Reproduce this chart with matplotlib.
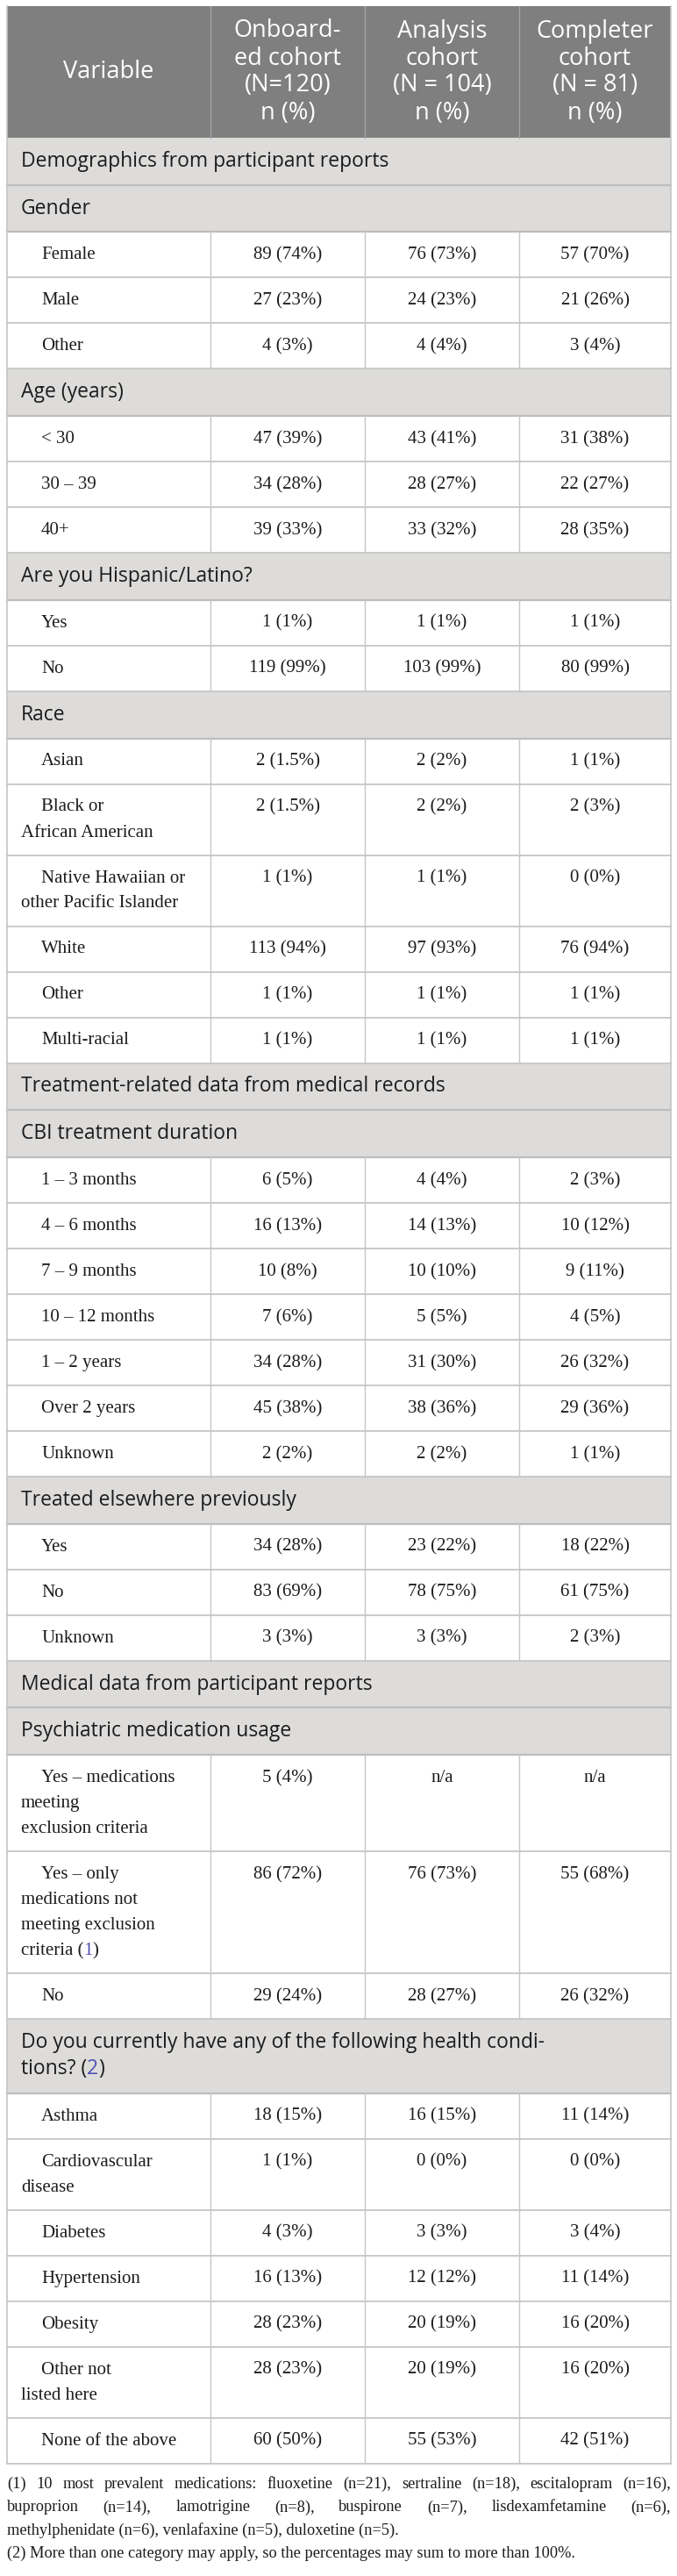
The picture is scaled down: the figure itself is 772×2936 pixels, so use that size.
#!/usr/bin/env python3

import re
import matplotlib
matplotlib.use("Agg")
import matplotlib.pyplot as plt
from matplotlib.patches import Rectangle

# ---- table content ----
header_cols = ["Variable",
               "Onboard-\ned cohort\n(N=120)\nn (%)",
               "Analysis\ncohort\n(N = 104)\nn (%)",
               "Completer\ncohort\n(N = 81)\nn (%)"]

gender_labels = ["Female", "Male", "Other"]
gender_onb = [(89, 74), (27, 23), (4, 3)]
gender_ana = [(76, 73), (24, 23), (4, 4)]
gender_com = [(57, 70), (21, 26), (3, 4)]

age_labels = ["< 30", "30 \u2013 39", "40+"]
age_onb = [(47, 39), (34, 28), (39, 33)]
age_ana = [(43, 41), (28, 27), (33, 32)]
age_com = [(31, 38), (22, 27), (28, 35)]

hisp_labels = ["Yes", "No"]
hisp_onb = [(1, 1), (119, 99)]
hisp_ana = [(1, 1), (103, 99)]
hisp_com = [(1, 1), (80, 99)]

race_labels = ["Asian", "Black or\nAfrican American",
               "Native Hawaiian or\nother Pacific Islander",
               "White", "Other", "Multi-racial"]
race_onb = [(2, 1.5), (2, 1.5), (1, 1), (113, 94), (1, 1), (1, 1)]
race_ana = [(2, 2), (2, 2), (1, 1), (97, 93), (1, 1), (1, 1)]
race_com = [(1, 1), (2, 3), (0, 0), (76, 94), (1, 1), (1, 1)]

cbi_labels = ["1 \u2013 3 months", "4 \u2013 6 months", "7 \u2013 9 months",
              "10 \u2013 12 months", "1 \u2013 2 years", "Over 2 years", "Unknown"]
cbi_onb = [(6, 5), (16, 13), (10, 8), (7, 6), (34, 28), (45, 38), (2, 2)]
cbi_ana = [(4, 4), (14, 13), (10, 10), (5, 5), (31, 30), (38, 36), (2, 2)]
cbi_com = [(2, 3), (10, 12), (9, 11), (4, 5), (26, 32), (29, 36), (1, 1)]

prev_labels = ["Yes", "No", "Unknown"]
prev_onb = [(34, 28), (83, 69), (3, 3)]
prev_ana = [(23, 22), (78, 75), (3, 3)]
prev_com = [(18, 22), (61, 75), (2, 3)]

med_labels = ["Yes \u2013 medications\nmeeting\nexclusion criteria",
              "Yes \u2013 only\nmedications not\nmeeting exclusion\ncriteria (1)",
              "No"]
med_onb = [(5, 4), (86, 72), (29, 24)]
med_ana = [None, (76, 73), (28, 27)]
med_com = [None, (55, 68), (26, 32)]

cond_labels = ["Asthma", "Cardiovascular\ndisease", "Diabetes", "Hypertension",
               "Obesity", "Other not\nlisted here", "None of the above"]
cond_onb = [(18, 15), (1, 1), (4, 3), (16, 13), (28, 23), (28, 23), (60, 50)]
cond_ana = [(16, 15), (0, 0), (3, 3), (12, 12), (20, 19), (20, 19), (55, 53)]
cond_com = [(11, 14), (0, 0), (3, 4), (11, 14), (16, 20), (16, 20), (42, 51)]

footnotes = [
    "(1) 10 most prevalent medications: fluoxetine (n=21), sertraline (n=18), escitalopram (n=16),",
    "buproprion (n=14), lamotrigine (n=8), buspirone (n=7), lisdexamfetamine (n=6),",
    "methylphenidate (n=6), venlafaxine (n=5), duloxetine (n=5).",
    "(2) More than one category may apply, so the percentages may sum to more than 100%.",
]
justified = [True, True, False, False]

# order of the table : ("S", title) for grey section rows, ("D", labels, onb, ana, com) for data
table = [
    ("S", "Demographics from participant reports"),
    ("S", "Gender"), ("D", gender_labels, gender_onb, gender_ana, gender_com),
    ("S", "Age (years)"), ("D", age_labels, age_onb, age_ana, age_com),
    ("S", "Are you Hispanic/Latino?"), ("D", hisp_labels, hisp_onb, hisp_ana, hisp_com),
    ("S", "Race"), ("D", race_labels, race_onb, race_ana, race_com),
    ("S", "Treatment-related data from medical records"),
    ("S", "CBI treatment duration"), ("D", cbi_labels, cbi_onb, cbi_ana, cbi_com),
    ("S", "Treated elsewhere previously"), ("D", prev_labels, prev_onb, prev_ana, prev_com),
    ("S", "Medical data from participant reports"),
    ("S", "Psychiatric medication usage"), ("D", med_labels, med_onb, med_ana, med_com),
    ("S", "Do you currently have any of the following health condi-\ntions? (2)"),
    ("D", cond_labels, cond_onb, cond_ana, cond_com),
]

# ---- style ----
W, H = 772, 2936
X_EDGES = [8, 240, 416, 592, 765]
HEADER_BG = "#7f7f7f"
SECTION_BG = "#dddcdb"
GRID = "#c6c6c6"
TEXT = "#1c1c1c"
REF = "#5050b0"

BODY = dict(family="Liberation Serif", fontsize=15, color=TEXT)
SECT = dict(family="Open Sans", fontsize=16.5, color=TEXT)
HEAD = dict(family="Open Sans", fontsize=19.5, color="white")


def fmt(v):
    if v is None:
        return "n/a"
    return f"{v[0]} ({v[1]:g}%)"


def draw_line(ax, x, y, s, fontkw):
    # draws a line of text where "(1)" / "(2)" get a blue digit
    parts = re.split(r"(?<=\()(\d)(?=\))", s)
    if len(parts) == 1:
        ax.text(x, y, s, ha="left", va="center", **fontkw)
        return
    kw = dict(fontkw)
    color = kw.pop("color")
    t = ax.text(x, y, parts[0], ha="left", va="center", color=color, **kw)
    for i, p in enumerate(parts[1:]):
        c = REF if i % 2 == 0 else color
        t = ax.annotate(p, xy=(1, 0), xycoords=t, ha="left", va="bottom", color=c, **kw)


fig = plt.figure(figsize=(W / 100, H / 100), dpi=100)
ax = fig.add_axes([0, 0, 1, 1])
ax.set_xlim(0, W)
ax.set_ylim(H, 0)
ax.axis("off")

# header
top = 7
head_h = 150
ax.add_patch(Rectangle((X_EDGES[0], top), X_EDGES[-1] - X_EDGES[0], head_h, color=HEADER_BG, lw=0))
for i, col in enumerate(header_cols):
    cx = (X_EDGES[i] + X_EDGES[i + 1]) / 2
    lines = col.split("\n")
    y0 = top + head_h / 2 - 31 * (len(lines) - 1) / 2
    for k, ln in enumerate(lines):
        ax.text(cx, y0 + 31 * k, ln, ha="center", va="center", **HEAD)
    if i > 0:
        ax.plot([X_EDGES[i]] * 2, [top, top + head_h], color="#a3a3a3", lw=1)
y = top + head_h

for item in table:
    if item[0] == "S":
        lines = item[1].split("\n")
        h = 53.7 + 31 * (len(lines) - 1)
        ax.add_patch(Rectangle((X_EDGES[0], y), X_EDGES[-1] - X_EDGES[0], h, color=SECTION_BG, lw=0))
        for k, ln in enumerate(lines):
            draw_line(ax, 24, y + 27 + 29.5 * k, ln, SECT)
        ax.plot([X_EDGES[0], X_EDGES[-1]], [y + h, y + h], color="#bdbdbd", lw=1.6)
        y += h
        continue
    _, labels, onb, ana, com = item
    for j, lab in enumerate(labels):
        lines = lab.split("\n")
        h = 52 + 29 * (len(lines) - 1)
        for k, ln in enumerate(lines):
            draw_line(ax, 47 if k == 0 else 24, y + 26.5 + 29 * k, ln, BODY)
        for c, vals in enumerate([onb, ana, com]):
            cx = (X_EDGES[c + 1] + X_EDGES[c + 2]) / 2
            ax.text(cx, y + 26.5, fmt(vals[j]), ha="center", va="center", **BODY)
        for xe in X_EDGES[1:-1]:
            ax.plot([xe, xe], [y, y + h], color=GRID, lw=1)
        ax.plot([X_EDGES[0], X_EDGES[-1]], [y + h, y + h], color=GRID, lw=1.3)
        y += h

# outer borders
ax.plot([X_EDGES[0]] * 2, [top, y], color=GRID, lw=1.2)
ax.plot([X_EDGES[-1]] * 2, [top, y], color=GRID, lw=1.2)

# footnotes
FOOT = dict(family="Liberation Serif", fontsize=13.2, color=TEXT)
renderer = fig.canvas.get_renderer()
fy = y + 24
for ln, just in zip(footnotes, justified):
    if not just:
        ax.text(X_EDGES[0], fy, ln, ha="left", va="center", **FOOT)
    else:
        words = ln.split(" ")
        texts = [ax.text(0, fy, w, ha="left", va="center", **FOOT) for w in words]
        widths = [t.get_window_extent(renderer).width for t in texts]
        gap = (X_EDGES[-1] - X_EDGES[0] - sum(widths)) / (len(words) - 1)
        x = X_EDGES[0]
        for t, wd in zip(texts, widths):
            t.set_x(x)
            x += wd + gap
    fy += 26.3

fig.savefig("out.png", dpi=100)
